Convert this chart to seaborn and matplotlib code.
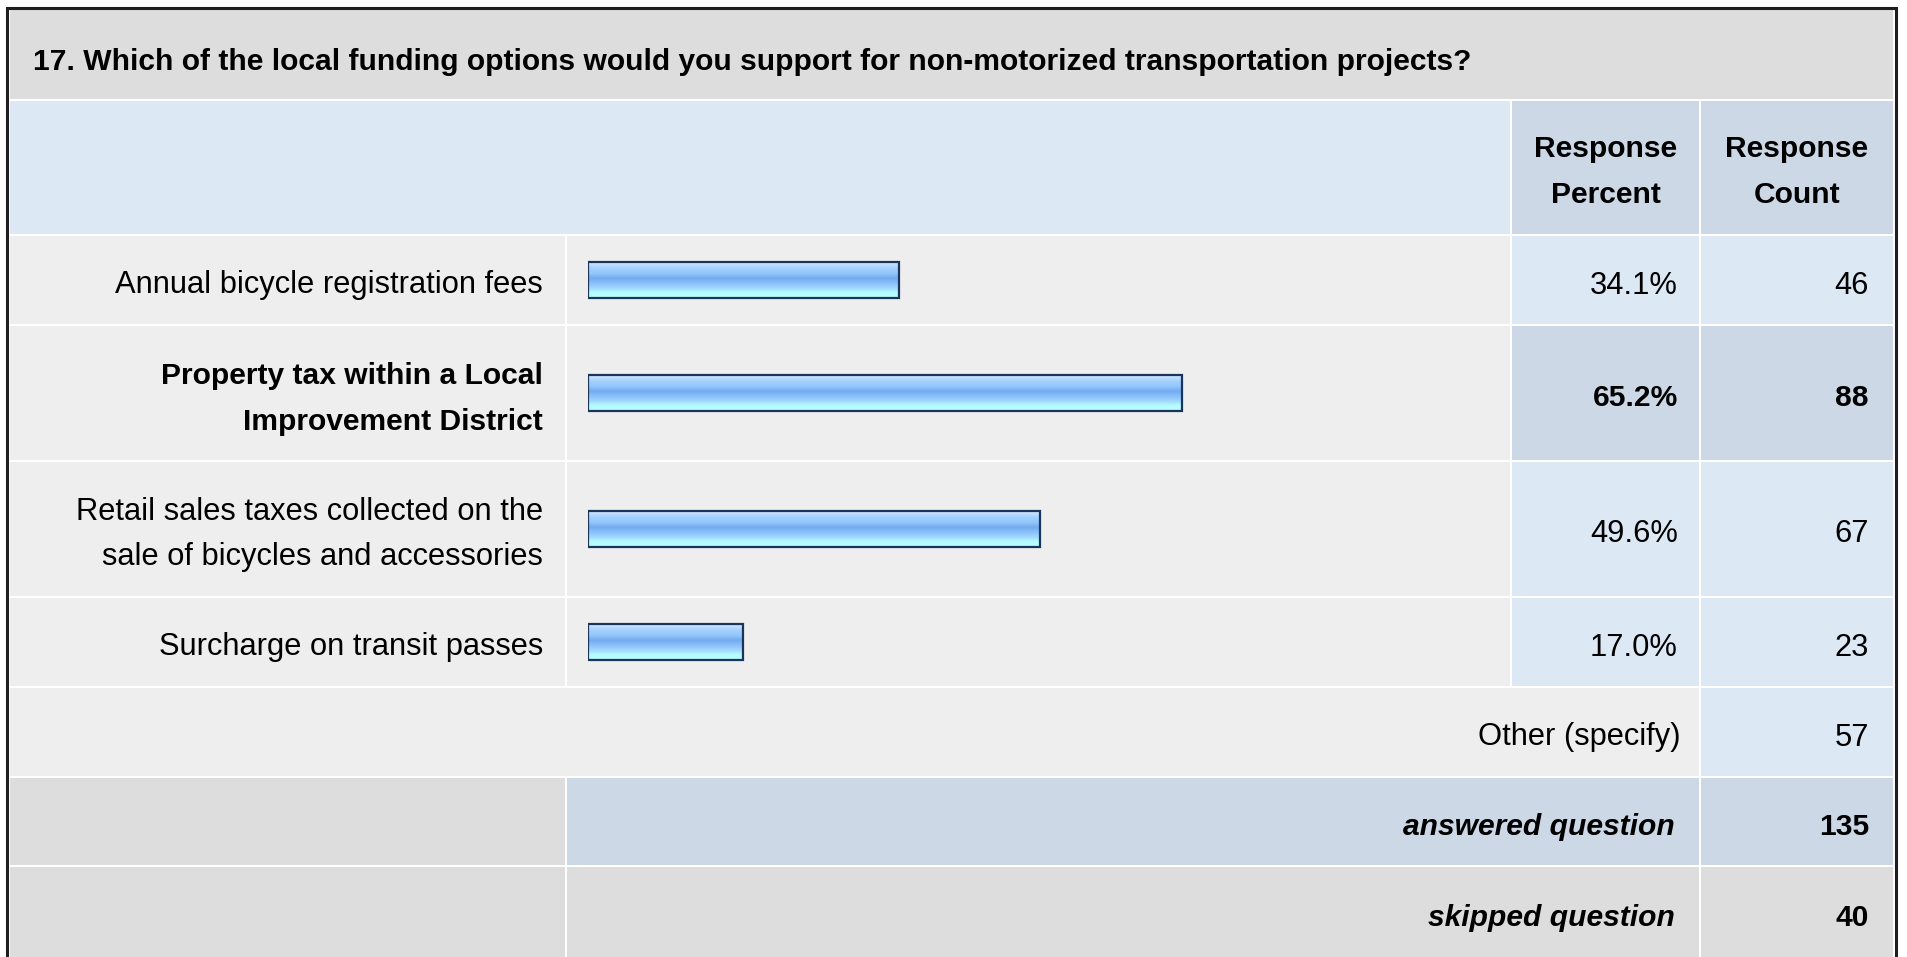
import numpy as np
import matplotlib
matplotlib.use("Agg")
import matplotlib.pyplot as plt
from matplotlib.patches import Rectangle
from matplotlib.colors import LinearSegmentedColormap
import seaborn as sns

# survey data
question = "17. Which of the local funding options would you support for non-motorized transportation projects?"
options = ["Annual bicycle registration fees",
           "Property tax within a Local\nImprovement District",
           "Retail sales taxes collected on the\nsale of bicycles and accessories",
           "Surcharge on transit passes"]
percents = [34.1, 65.2, 49.6, 17.0]
counts = [46, 88, 67, 23]
other_label = "Other (specify)"
other_count = 57
answered = 135
skipped = 40

sns.set_theme(style="white")
plt.rcParams["font.family"] = ["Liberation Sans", "DejaVu Sans"]
FS = 22.2      # regular text
FSB = 21.6     # bold text

W, H = 1907, 957
fig = plt.figure(figsize=(W / 100, H / 100), dpi=100)
bg = fig.add_axes([0, 0, 1, 1])
bg.set_xlim(0, W)
bg.set_ylim(H, 0)
bg.axis("off")

GRAY = "#dddddd"
LIGHT = "#eeeeee"
BLUE = "#dde8f5"
BLUE2 = "#ccd8e6"

# column / row edges (px)
xs = [9, 566, 1511, 1700, 1894]
ys = [9, 100, 235, 325, 461, 597, 687, 777, 866, 958]


def cell(x0, x1, y0, y1, color):
    bg.add_patch(Rectangle((x0 + 1, y0 + 1), x1 - x0 - 2, y1 - y0 - 2,
                           facecolor=color, edgecolor="none", zorder=1))


def txt(x, y, s, ha="right", weight="normal", style="normal"):
    lines = s.split("\n")
    n = len(lines)
    size = FSB if weight == "bold" else FS
    for k, line in enumerate(lines):
        yy = y + 13.5 + (k - (n - 1) / 2) * 46
        bg.text(x, yy, line, ha=ha, va="baseline", fontsize=size,
                fontweight=weight, fontstyle=style, color="black", zorder=3)


# title band
cell(xs[0], xs[4], ys[0], ys[1], GRAY)
bg.text(33, 70, question, ha="left", va="baseline", fontsize=FSB,
        fontweight="bold", color="black", zorder=3)

# header
cell(xs[0], xs[2], ys[1], ys[2], BLUE)
cell(xs[2], xs[3], ys[1], ys[2], BLUE2)
cell(xs[3], xs[4], ys[1], ys[2], BLUE2)
hc = (ys[1] + ys[2]) / 2 - 1
txt((xs[2] + xs[3]) / 2, hc, "Response\nPercent", ha="center", weight="bold")
txt((xs[3] + xs[4]) / 2, hc, "Response\nCount", ha="center", weight="bold")

best = int(np.argmax(percents))
cmap = LinearSegmentedColormap.from_list(
    "bar", [(0.0, "#d2e9ff"), (0.15, "#a6d2ff"), (0.3, "#94c8fd"),
            (0.45, "#74abee"), (0.6, "#8cc2fb"), (0.75, "#a4dcff"),
            (0.85, "#b4fcff"), (1.0, "#b8ffff")])
grad = np.linspace(0, 1, 64).reshape(-1, 1)

for i, (lab, p, c) in enumerate(zip(options, percents, counts)):
    y0, y1 = ys[i + 2], ys[i + 3]
    yc = (y0 + y1) / 2
    wt = "bold" if i == best else "normal"
    pc = BLUE2 if i == best else BLUE
    cell(xs[0], xs[1], y0, y1, LIGHT)
    cell(xs[1], xs[2], y0, y1, LIGHT)
    cell(xs[2], xs[3], y0, y1, pc)
    cell(xs[3], xs[4], y0, y1, pc)
    txt(543, yc, lab, weight=wt)
    txt(1678, yc, f"{p:.1f}%", weight=wt)
    txt(1869, yc, str(c), weight=wt)

    # bar axes for this row: 0..100 % mapped onto the bar column
    ax = fig.add_axes([588 / W, 1 - y1 / H, (1499 - 588) / W, (y1 - y0) / H])
    ax.patch.set_alpha(0)
    sns.barplot(x=[p], y=[lab], orient="h", ax=ax, width=36 / (y1 - y0),
                color="#94c8fd", edgecolor="#1b355a", linewidth=1.6)
    ax.set_xlim(0, 100)
    ylim = ax.get_ylim()
    for bar in ax.patches:
        bx, by = bar.get_x(), bar.get_y()
        bw, bh = bar.get_width(), bar.get_height()
        im = ax.imshow(grad, cmap=cmap, aspect="auto", origin="upper",
                       extent=(bx, bx + bw, by + bh, by), zorder=1.5,
                       interpolation="bilinear")
        im.set_clip_path(bar)
        bar.set_facecolor("none")
        bar.set_zorder(2)
    ax.set_xlim(0, 100)
    ax.set_ylim(ylim)
    ax.axis("off")

# other row
y0, y1 = ys[6], ys[7]
cell(xs[0], xs[3], y0, y1, LIGHT)
cell(xs[3], xs[4], y0, y1, BLUE)
txt(1680, (y0 + y1) / 2, other_label)
txt(1869, (y0 + y1) / 2, str(other_count))

# answered row
y0, y1 = ys[7], ys[8]
cell(xs[0], xs[1], y0, y1, GRAY)
cell(xs[1], xs[3], y0, y1, BLUE2)
cell(xs[3], xs[4], y0, y1, BLUE2)
txt(1675, (y0 + y1) / 2, "answered question", weight="bold", style="italic")
txt(1869, (y0 + y1) / 2, str(answered), weight="bold")

# skipped row
y0, y1 = ys[8], ys[9]
cell(xs[0], xs[1], y0, y1, GRAY)
cell(xs[1], xs[3], y0, y1, GRAY)
cell(xs[3], xs[4], y0, y1, GRAY)
txt(1675, (y0 + y1) / 2, "skipped question", weight="bold", style="italic")
txt(1869, (y0 + y1) / 2, str(skipped), weight="bold")

# outer frame
bg.plot([7, 7, 1896, 1896], [H, 7.5, 7.5, H], color="#1e1e1e", lw=2.2,
        solid_joinstyle="miter", zorder=4)

fig.savefig("out.png", dpi=100, facecolor="white")
